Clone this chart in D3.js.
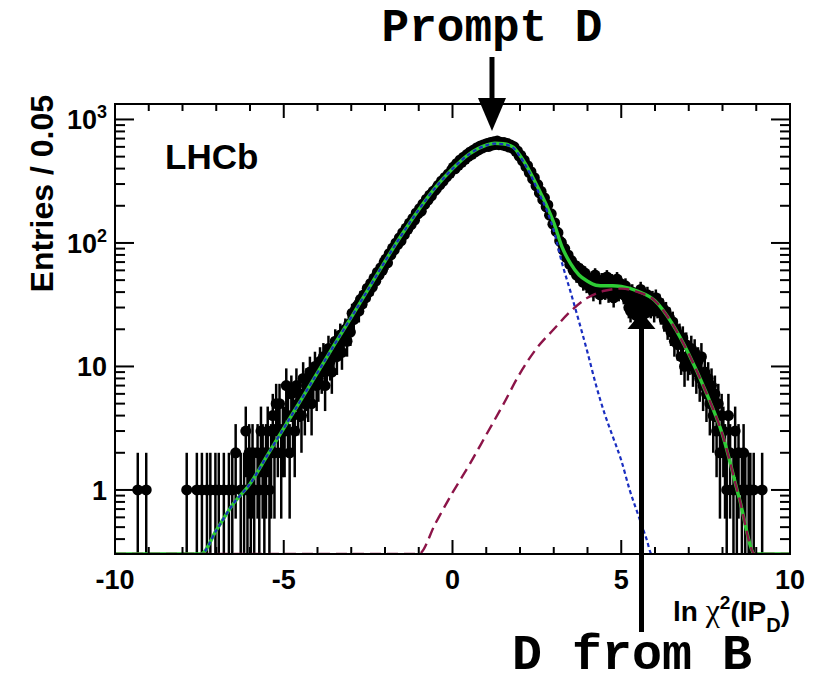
<!DOCTYPE html>
<html><head><meta charset="utf-8">
<script src="https://cdn.jsdelivr.net/npm/d3@7"></script>
<style>body{margin:0;background:#fff} svg{display:block}</style>
</head><body>
<svg id="c" width="814" height="686"></svg>
<script>
// Axis ranges and ticks
const xRange = [-10, 10];
const yRange = [0.303, 1334];
const binWidth = 0.05;
const xTickValues = [-10, -5, 0, 5, 10];
const xTickLabels = ["-10", "-5", "0", "5", "10"];
const yTickValues = [1, 10, 100, 1000];
const yTickBase = ["1", "10", "10", "10"];
const yTickExp = ["", "", "2", "3"];

// Entries per 0.05 bin, bins from -10 to 10 (one row per unit of x)
const counts = [
  0,0,0,0,0,0,0,0,0,0,0,0,0,1,0,0,0,0,1,0,
  0,0,0,0,0,0,0,0,0,0,0,0,0,0,0,0,0,0,0,0,
  0,0,1,0,0,0,0,0,1,0,0,1,0,0,1,0,1,0,0,1,
  0,1,0,0,1,0,0,1,0,1,0,2,0,0,1,0,1,3,1,2,
  1,2,1,0,2,1,3,2,1,2,3,1,2,4,2,5,3,5,2,3,
  3,7,4,2,6,4,3,7,5,6,4,8,5,7,6,9,5,8,10,7,
  8,11,9,12,7,10,14,11,9,13,16,12,15,18,13,17,20,16,22,19,
  27,24,29,31,28,35,32,38,36,43,40,47,44,52,49,58,55,63,60,70,
  74,69,82,80,91,88,100,97,110,104,121,117,132,129,145,141,158,153,175,172,
  190,181,207,205,226,222,244,241,262,265,276,293,296,318,317,339,343,362,366,390,
  412,398,440,425,470,450,495,476,520,502,545,522,566,546,590,566,610,586,625,602,
  640,605,652,620,660,628,668,625,655,622,650,612,638,598,620,585,600,552,556,505,
  512,462,468,416,422,372,378,330,338,290,297,254,262,224,232,196,203,168,172,142,
  146,124,121,104,101,88,90,76,80,67,72,60,66,55,63,52,60,48,57,46,
  52,44,48,40,55,42,47,38,50,45,41,53,39,46,49,36,44,51,40,47,
  43,38,45,35,30,28,40,33,26,37,31,42,29,36,27,38,33,30,35,28,
  36,30,33,27,30,24,28,21,25,19,23,16,20,15,18,12,17,10,15,11,
  12,14,10,13,9,11,8,12,7,9,6,8,5,7,4,6,3,5,2,4,
  3,2,1,4,2,0,1,3,1,2,0,1,2,1,0,1,1,0,1,0,
  0,0,0,1,0,0,0,0,0,0,0,0,0,0,0,0,0,0,0,0
];

// Prompt component (values of 0 lie below the axis range)
const promptX = [-10,-7.45,-7,-6.5,-6,-5.5,-5,-4.5,-4,-3.5,-3,-2.5,-2,-1.5,-1,-0.5,0,0.5,1,1.25,1.5,1.8,2,2.3,2.6,2.8,3,3.25,3.5,3.75,4,4.25,4.5,4.75,5,5.25,5.5,5.75,5.9,10];
const promptV = [0,0.3,0.47,0.77,1.12,1.88,3.16,5.3,8.9,15,25,42,71,117,186,282,398,525,617,638,631,589,501,363,240,182,126,68,40,23,13,7.1,4.2,2.7,1.74,1.0,0.63,0.4,0.3,0];

// Secondary (from B) component
const secX = [-10,-1.0,-0.5,0,0.5,1,1.5,2,2.5,3,3.5,4,4.5,5,5.5,6,6.5,7,7.5,8,8.5,8.96,10];
const secV = [0,0.3,0.54,0.95,1.6,2.8,4.9,8.8,14.1,20,28,36,41,42.7,40,34,22.4,12.6,6.3,2.8,0.85,0.3,0];

// Total fit
const totalX = [-10,-7.45,-7,-6.5,-6,-5.5,-5,-4.5,-4,-3.5,-3,-2.5,-2,-1.5,-1,-0.5,0,0.5,1,1.25,1.5,1.8,2,2.3,2.6,2.8,3,3.25,3.5,3.75,4,4.25,4.5,4.75,5,5.5,6,6.5,7,7.5,8,8.5,8.96,10];
const totalV = [0,0.3,0.47,0.77,1.12,1.88,3.16,5.3,8.9,15,25,42,71,117,186,283,399,527,620,642,636,596,510,374,257,198,146,92,68,55,49,45.5,45,45,44.4,40.6,34,22.4,12.6,6.3,2.8,0.85,0.3,0];

const promptArrowX = 1.17;
const fromBArrowX = 5.6;

const svg = d3.select("#c");
const L = 115, R = 790, T = 104, B = 554;
const x = d3.scaleLinear().domain(xRange).range([L, R]);
const y = d3.scaleLog().domain(yRange).range([B, T]);
const yMin = yRange[0], yMax = yRange[1];
const yc = v => y(Math.min(Math.max(v, yMin), yMax));

svg.append("defs").append("clipPath").attr("id", "frame")
  .append("rect").attr("x", L).attr("y", T).attr("width", R - L).attr("height", B - T);

const plot = svg.append("g").attr("clip-path", "url(#frame)");

// data points with Poisson error bars
const pts = counts.map((n, i) => ({ x: xRange[0] + binWidth * (i + 0.5), n }))
  .filter(d => d.n > 0);
plot.append("g").selectAll("line").data(pts).join("line")
  .attr("x1", d => x(d.x)).attr("x2", d => x(d.x))
  .attr("y1", d => yc(d.n - Math.sqrt(d.n)))
  .attr("y2", d => yc(d.n + Math.sqrt(d.n)))
  .attr("stroke", "#000").attr("stroke-width", 2.5);
plot.append("g").selectAll("circle").data(pts).join("circle")
  .attr("cx", d => x(d.x)).attr("cy", d => y(d.n)).attr("r", 5.5)
  .attr("fill", "#000");

// fit curves
const line = d3.line().x(d => x(d[0])).y(d => yc(d[1])).curve(d3.curveMonotoneX);
const zip = (a, b) => a.map((v, i) => [v, b[i]]);
plot.append("path").attr("d", line(zip(totalX, totalV)))
  .attr("fill", "none").attr("stroke", "#2ecc35").attr("stroke-width", 3.4);
plot.append("path").attr("d", line(zip(promptX, promptV)))
  .attr("fill", "none").attr("stroke", "#1a2ec0").attr("stroke-width", 2.2)
  .attr("stroke-dasharray", "4,3");
plot.append("path").attr("d", line(zip(secX, secV)))
  .attr("fill", "none").attr("stroke", "#8c1448").attr("stroke-width", 2.4)
  .attr("stroke-dasharray", "11,6");

// frame and ticks
const axes = svg.append("g").attr("stroke", "#000").attr("stroke-width", 2);
axes.append("rect").attr("x", L).attr("y", T).attr("width", R - L).attr("height", B - T)
  .attr("fill", "none");
const xTicks = d3.range(-10, 11, 1);
xTicks.forEach(t => {
  const len = (t % 5 === 0) ? 14 : 7;
  axes.append("line").attr("x1", x(t)).attr("x2", x(t)).attr("y1", B).attr("y2", B - len);
  axes.append("line").attr("x1", x(t)).attr("x2", x(t)).attr("y1", T).attr("y2", T + len);
});
const yTicks = [];
for (let e = -1; e <= 3; e++) for (let m = 1; m <= 9; m++) {
  const v = m * Math.pow(10, e);
  if (v >= yMin && v <= yMax) yTicks.push({ v, major: m === 1 });
}
yTicks.forEach(t => {
  const len = t.major ? 19 : 10;
  axes.append("line").attr("x1", L).attr("x2", L + len).attr("y1", y(t.v)).attr("y2", y(t.v));
  axes.append("line").attr("x1", R).attr("x2", R - len).attr("y1", y(t.v)).attr("y2", y(t.v));
});

// tick labels
const font = "'Liberation Sans', Arial, Helvetica, sans-serif";
svg.append("g").selectAll("text").data(xTickValues).join("text")
  .attr("x", d => x(d)).attr("y", 589).attr("text-anchor", "middle")
  .attr("font-family", font).attr("font-weight", "bold").attr("font-size", 27)
  .text((d, i) => xTickLabels[i]);
const yl = svg.append("g");
yTickValues.forEach((v, i) => {
  const t = yl.append("text").attr("x", 107).attr("y", y(v) + 10).attr("text-anchor", "end")
    .attr("font-family", font).attr("font-weight", "bold").attr("font-size", 27);
  t.append("tspan").text(yTickBase[i]);
  if (yTickExp[i]) t.append("tspan").attr("dy", -11).attr("font-size", 18).text(yTickExp[i]);
});

// axis titles
svg.append("text").attr("transform", "translate(53,95) rotate(-90)")
  .attr("text-anchor", "end").attr("font-family", font).attr("font-weight", "bold")
  .attr("font-size", 32).text("Entries / 0.05");
const xt = svg.append("text").attr("x", 790).attr("y", 621).attr("text-anchor", "end")
  .attr("font-family", font).attr("font-weight", "bold").attr("font-size", 28);
xt.append("tspan").text("ln ");
xt.append("tspan").attr("font-family", "'Liberation Serif', 'Times New Roman', serif").attr("font-weight", "normal").attr("font-size", 32).text("χ");
xt.append("tspan").attr("dy", -12).attr("font-size", 19).text("2");
xt.append("tspan").attr("dy", 12).text("(IP");
xt.append("tspan").attr("dy", 11).attr("font-size", 20).text("D");
xt.append("tspan").attr("dy", -11).text(")");

svg.append("text").attr("x", 165).attr("y", 169).attr("font-family", font)
  .attr("font-weight", "bold").attr("font-size", 35).text("LHCb");

// annotation arrows
const mono = "'Courier New', 'Liberation Mono', 'Nimbus Mono PS', monospace";
const ax1 = x(promptArrowX);
svg.append("line").attr("x1", ax1).attr("x2", ax1).attr("y1", 57).attr("y2", 104)
  .attr("stroke", "#000").attr("stroke-width", 5);
svg.append("path").attr("d", `M${ax1 - 14},98 L${ax1 + 14},98 L${ax1},131 Z`).attr("fill", "#000");
svg.append("text").attr("x", ax1).attr("y", 41).attr("text-anchor", "middle")
  .attr("font-family", mono).attr("font-weight", "bold").attr("font-size", 46).text("Prompt D");

const ax2 = x(fromBArrowX);
svg.append("line").attr("x1", ax2).attr("x2", ax2).attr("y1", 632).attr("y2", 325)
  .attr("stroke", "#000").attr("stroke-width", 5);
svg.append("path").attr("d", `M${ax2 - 14},329 L${ax2 + 14},329 L${ax2},312 Z`).attr("fill", "#000");
svg.append("text").attr("x", 632).attr("y", 669).attr("text-anchor", "middle")
  .attr("font-family", mono).attr("font-weight", "bold").attr("font-size", 50).text("D from B");
</script>
</body></html>
